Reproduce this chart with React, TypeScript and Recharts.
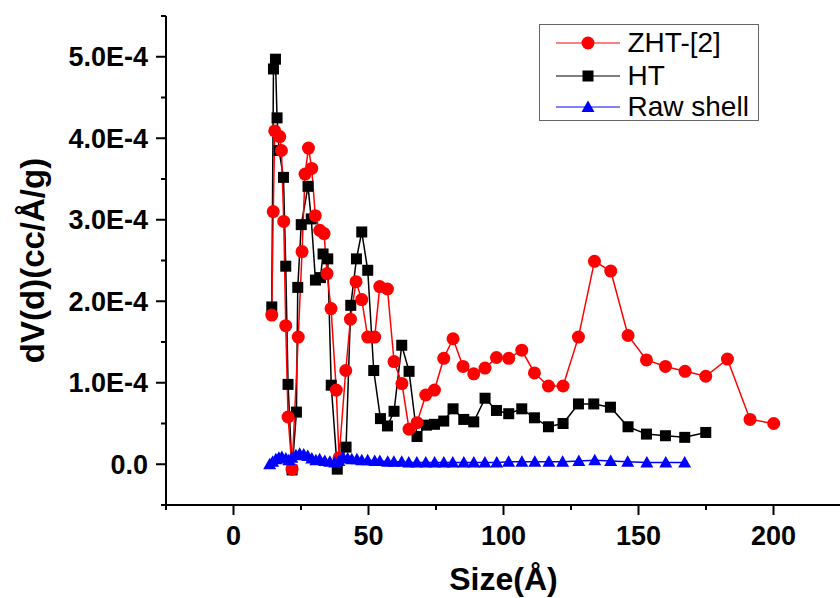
import React from 'react';
import { LineChart, Line, XAxis, YAxis, Legend } from 'recharts';

// pore size (Å) and dV(d) in units of 1E-4 cc/Å/g
const zhtSize = [14.17, 14.72, 15.28, 17.13, 17.76, 18.61, 19.35, 20.2, 21.69, 23.98, 25.39, 26.5, 27.76, 28.98, 30.28, 31.94, 33.54, 34.65, 36.13, 38.06, 39.09, 41.57, 43.31, 45.39, 47.5, 49.72, 52.31, 54.17, 57.02, 59.46, 62.39, 65.02, 67.98, 71.2, 74.43, 77.87, 81.31, 85.02, 88.98, 93.17, 97.39, 101.94, 106.76, 111.46, 116.65, 122.06, 127.76, 133.69, 139.72, 146.13, 152.94, 159.98, 167.24, 174.91, 182.94, 191.31, 200.09];
const zhtDv = [1.83, 3.1, 4.09, 4.02, 3.85, 2.98, 1.7, 0.58, -0.06, 1.56, 2.61, 3.56, 3.88, 3.63, 3.05, 2.87, 2.83, 2.34, 1.91, 0.91, 0.08, 1.15, 1.78, 2.24, 2.02, 1.56, 1.56, 2.18, 2.15, 1.26, 0.99, 0.43, 0.51, 0.85, 0.91, 1.3, 1.54, 1.2, 1.11, 1.18, 1.31, 1.3, 1.4, 1.12, 0.96, 0.96, 1.56, 2.49, 2.37, 1.58, 1.28, 1.2, 1.14, 1.08, 1.29, 0.55, 0.5];

const htSize = [14.17, 14.8, 15.54, 16.13, 16.87, 18.5, 19.35, 20.2, 21.69, 23.31, 23.8, 25.09, 27.61, 28.8, 30.35, 32.2, 33.17, 34.91, 36.2, 38.43, 41.69, 43.43, 45.54, 47.5, 49.72, 51.94, 54.43, 57.02, 59.46, 62.31, 65.02, 67.98, 71.46, 74.43, 77.87, 81.31, 85.28, 88.98, 93.17, 97.39, 101.94, 106.76, 111.46, 116.65, 122.06, 127.76, 133.43, 139.61, 146.13, 152.94, 159.98, 167.13, 174.91];
const htDv = [1.93, 4.85, 4.97, 4.25, 3.85, 3.52, 2.43, 0.98, -0.07, 0.64, 2.17, 2.94, 3.41, 3.01, 2.26, 2.29, 2.58, 2.52, 0.97, -0.06, 0.21, 1.95, 2.52, 2.85, 2.38, 1.15, 0.56, 0.47, 0.65, 1.46, 1.14, 0.34, 0.48, 0.49, 0.53, 0.68, 0.55, 0.52, 0.81, 0.66, 0.62, 0.68, 0.57, 0.46, 0.5, 0.74, 0.74, 0.7, 0.46, 0.37, 0.35, 0.33, 0.39];

const rawSize = [13.4, 14.5, 15.7, 16.8, 17.9, 19.4, 20.5, 21.6, 23.1, 24.5, 26.0, 27.5, 29.0, 30.5, 31.9, 33.8, 35.7, 37.5, 39.0, 40.5, 42.3, 43.8, 45.7, 47.5, 49.7, 52.3, 54.2, 57.1, 59.4, 62.3, 64.9, 67.9, 71.2, 74.5, 77.9, 81.2, 85.3, 89.0, 93.1, 97.5, 101.9, 106.8, 111.6, 116.8, 121.9, 127.9, 133.8, 139.7, 146.0, 153.1, 160.1, 167.1];
const rawDv = [0.0, 0.03, 0.06, 0.08, 0.09, 0.07, 0.05, 0.08, 0.11, 0.13, 0.12, 0.1, 0.07, 0.05, 0.06, 0.04, 0.03, 0.02, 0.04, 0.09, 0.07, 0.06, 0.06, 0.05, 0.05, 0.04, 0.04, 0.03, 0.03, 0.03, 0.02, 0.02, 0.02, 0.02, 0.02, 0.02, 0.02, 0.02, 0.02, 0.02, 0.03, 0.03, 0.03, 0.03, 0.03, 0.04, 0.05, 0.04, 0.03, 0.02, 0.02, 0.02];

const xTicks = [-25, 0, 25, 50, 75, 100, 125, 150, 175, 200, 225];
const xMajor = [0, 50, 100, 150, 200];
const yTicks = [-0.5, 0, 0.5, 1, 1.5, 2, 2.5, 3, 3.5, 4, 4.5, 5, 5.5];

const FONT = '"Liberation Sans", Arial, Helvetica, sans-serif';

const toPoints = (xs: number[], ys: number[]) => xs.map((x, i) => ({ size: x, dv: ys[i] }));
const zhtData = toPoints(zhtSize, zhtDv);
const htData = toPoints(htSize, htDv);
const rawData = toPoints(rawSize, rawDv);

const XTick = (props: any) => {
  const { x, y, payload } = props;
  const major = xMajor.includes(payload.value);
  return (
    <g>
      <line x1={x} x2={x} y1={y} y2={y + (major ? 10 : 5)} stroke="#000" strokeWidth={2} />
      {major && (
        <text x={x} y={y + 40} textAnchor="middle" fontFamily={FONT} fontWeight="bold" fontSize={27} fill="#000">
          {payload.value}
        </text>
      )}
    </g>
  );
};

const YTick = (props: any) => {
  const { x, y, payload } = props;
  const v = payload.value;
  const major = Number.isInteger(v) && v >= 0;
  const label = v === 0 ? '0.0' : `${v.toFixed(1)}E-4`;
  return (
    <g>
      <line x1={x} x2={x - (major ? 10 : 5)} y1={y} y2={y} stroke="#000" strokeWidth={2} />
      {major && (
        <text x={x - 18} y={y + 9.5} textAnchor="end" fontFamily={FONT} fontWeight="bold" fontSize={27} fill="#000">
          {label}
        </text>
      )}
    </g>
  );
};

const CircleDot = (props: any) => {
  const { cx, cy, index } = props;
  if (cx == null || cy == null) return <g key={index} />;
  return <circle key={index} cx={cx} cy={cy} r={6.5} fill="#ff0000" />;
};

const SquareDot = (props: any) => {
  const { cx, cy, index } = props;
  if (cx == null || cy == null) return <g key={index} />;
  return <rect key={index} x={cx - 5.5} y={cy - 5.5} width={11} height={11} fill="#000" />;
};

const TriDot = (props: any) => {
  const { cx, cy, index } = props;
  if (cx == null || cy == null) return <g key={index} />;
  return <path key={index} d={`M${cx},${cy - 6.5}L${cx - 6.5},${cy + 5}L${cx + 6.5},${cy + 5}Z`} fill="#0000ff" />;
};

const legendItems = [
  { name: 'ZHT-[2]', color: '#ff0000', shape: 'circle' },
  { name: 'HT', color: '#000000', shape: 'square' },
  { name: 'Raw shell', color: '#0000ff', shape: 'triangle' },
];
const legendTops = [2, 35, 66];

const LegendBox = () => (
  <div
    style={{
      position: 'relative',
      width: 220,
      height: 97,
      border: '1.5px solid #666',
      boxSizing: 'border-box',
      background: '#fff',
    }}
  >
    {legendItems.map((it, i) => (
      <div
        key={it.name}
        style={{ position: 'absolute', left: 15.5, top: legendTops[i], height: 32, display: 'flex', alignItems: 'center' }}
      >
        <svg width={64} height={32} style={{ display: 'block' }}>
          <line x1={0} x2={64} y1={16} y2={16} stroke={it.color} strokeWidth={1} />
          {it.shape === 'circle' && <circle cx={32} cy={16} r={6.5} fill={it.color} />}
          {it.shape === 'square' && <rect x={26.5} y={10.5} width={11} height={11} fill={it.color} />}
          {it.shape === 'triangle' && <path d="M32,9.5L25.5,21L38.5,21Z" fill={it.color} />}
        </svg>
        <span style={{ marginLeft: 8, fontFamily: FONT, fontSize: 28, color: '#000', lineHeight: '32px', whiteSpace: 'nowrap' }}>
          {it.name}
        </span>
      </div>
    ))}
  </div>
);

const YTitle = (props: any) => {
  const { viewBox } = props;
  const cy = viewBox.y + viewBox.height / 2;
  return (
    <text
      x={44}
      y={cy}
      transform={`rotate(-90 44 ${cy})`}
      textAnchor="middle"
      fontFamily={FONT}
      fontWeight="bold"
      fontSize={33}
      fill="#000"
    >
      dV(d)(cc/Å/g)
    </text>
  );
};

export default function App() {
  return (
    <div style={{ position: 'absolute', left: 0, top: 0, width: 840, height: 598, overflow: 'hidden', background: '#fff' }}>
      <LineChart width={842} height={598} margin={{ top: 16, right: 1, bottom: 0, left: 0 }}>
        <XAxis
          dataKey="size"
          type="number"
          domain={[-25, 225]}
          ticks={xTicks}
          interval={0}
          allowDataOverflow
          height={93}
          tickLine={false}
          tickSize={0}
          tickMargin={0}
          axisLine={{ stroke: '#000', strokeWidth: 2 }}
          tick={<XTick />}
          label={{
            value: 'Size(Å)',
            position: 'insideBottom',
            offset: 8,
            fill: '#000',
            fontSize: 32,
            fontWeight: 'bold',
            fontFamily: FONT,
          }}
        />
        <YAxis
          type="number"
          domain={[-0.5, 5.5]}
          ticks={yTicks}
          interval={0}
          allowDataOverflow
          width={166}
          tickLine={false}
          tickSize={0}
          tickMargin={0}
          axisLine={{ stroke: '#000', strokeWidth: 2 }}
          tick={<YTick />}
          label={{ content: <YTitle /> }}
        />
        <Legend
          layout="horizontal"
          verticalAlign="middle"
          align="center"
          content={<LegendBox />}
          wrapperStyle={{ left: 539, top: 24, width: 220, height: 97 }}
        />
        <Line
          data={htData}
          dataKey="dv"
          name="HT"
          type="linear"
          stroke="#000"
          strokeWidth={1.5}
          dot={SquareDot}
          activeDot={false}
          isAnimationActive={false}
        />
        <Line
          data={zhtData}
          dataKey="dv"
          name="ZHT-[2]"
          type="linear"
          stroke="#ff0000"
          strokeWidth={1.5}
          dot={CircleDot}
          activeDot={false}
          isAnimationActive={false}
        />
        <Line
          data={rawData}
          dataKey="dv"
          name="Raw shell"
          type="linear"
          stroke="#0000ff"
          strokeWidth={1.5}
          dot={TriDot}
          activeDot={false}
          isAnimationActive={false}
        />
      </LineChart>
    </div>
  );
}
